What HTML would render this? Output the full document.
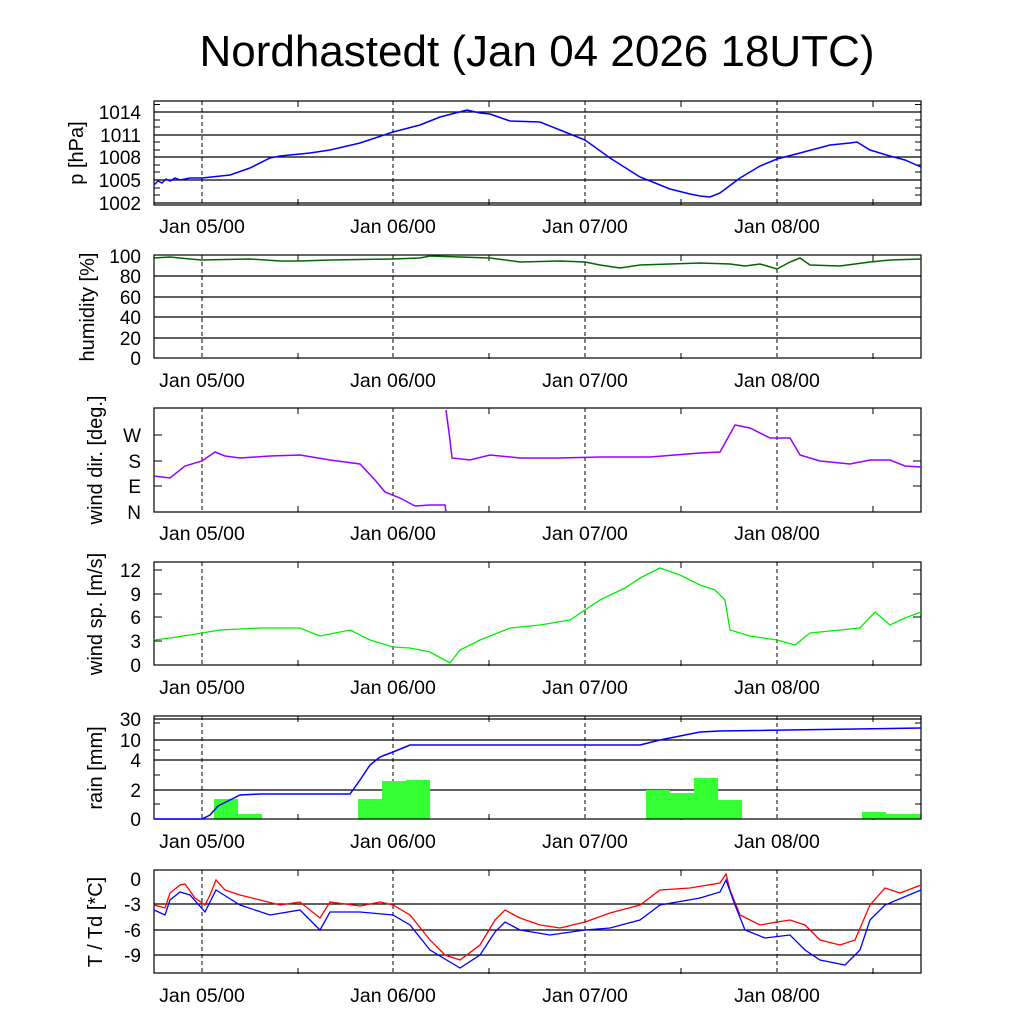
<!DOCTYPE html>
<html><head><style>body{margin:0;background:#fff}svg{display:block}text{font-family:"Liberation Sans",sans-serif;fill:#000}</style></head>
<body>
<svg width="1024" height="1024" xmlns="http://www.w3.org/2000/svg">
<rect width="1024" height="1024" fill="#fff"/>
<text x="537" y="66" font-size="44" text-anchor="middle">Nordhastedt (Jan 04 2026 18UTC)</text>
<defs>
<g id="vx" stroke="#000" stroke-width="1">
<line x1="202" y1="0" x2="202" y2="104" stroke-dasharray="4,3"/>
<line x1="393" y1="0" x2="393" y2="104" stroke-dasharray="4,3"/>
<line x1="585" y1="0" x2="585" y2="104" stroke-dasharray="4,3"/>
<line x1="777" y1="0" x2="777" y2="104" stroke-dasharray="4,3"/>
<path d="M298 104v-6M298 0v6M489 104v-6M489 0v6M681 104v-6M681 0v6M873 104v-6M873 0v6"/>
</g>
<g id="xl" font-size="19.5" text-anchor="middle">
<text x="202" y="132">Jan 05/00</text><text x="393" y="132">Jan 06/00</text><text x="585" y="132">Jan 07/00</text><text x="777" y="132">Jan 08/00</text>
</g>
</defs>

<g transform="translate(0,101)">
<use href="#vx"/><use href="#xl"/>
<g stroke="#000" stroke-width="1.2"><path d="M154 11H921M154 34H921M154 56H921M154 79H921M154 102H921"/></g>
<g stroke="#000"><path d="M154 3.5h6M154 19h6M154 26h6M154 41h6M154 49h6M154 64h6M154 71h6M154 87h6M154 94h6M921 3.5h-6M921 19h-6M921 26h-6M921 41h-6M921 49h-6M921 64h-6M921 71h-6M921 87h-6M921 94h-6"/></g>
<rect x="154" y="0" width="767" height="104" fill="none" stroke="#000" stroke-width="1.2"/>
<g font-size="19" text-anchor="end"><text x="141" y="18">1014</text><text x="141" y="41">1011</text><text x="141" y="63">1008</text><text x="141" y="86">1005</text><text x="141" y="109">1002</text></g>
<text transform="translate(83,52) rotate(-90)" font-size="20" text-anchor="middle">p [hPa]</text>
</g>
<polyline fill="none" stroke="#00f" stroke-width="1.5" points="154,185 158,181 162,183 166,179 170,181 175,178 180,180 190,178 202,178 230,175 250,168 270,158 280,156 290,155 310,153 330,150 360,143 393,132 420,125 440,117 467,110 480,113 490,114 510,121 540,122 560,130 585,140 610,158 640,177 670,189 690,194 700,196 710,197 720,193 740,178 760,166 777,159 800,153 830,145 850,143 857,142 870,150 890,156 905,160 921,167"/>

<g transform="translate(0,255)">
<use href="#vx"/><use href="#xl"/>
<g stroke="#000" stroke-width="1.2"><path d="M154 21H921M154 42H921M154 62H921M154 83H921"/></g>
<rect x="154" y="0" width="767" height="103" fill="none" stroke="#000" stroke-width="1.2"/>
<g font-size="19" text-anchor="end"><text x="141" y="8">100</text><text x="141" y="28">80</text><text x="141" y="49">60</text><text x="141" y="69">40</text><text x="141" y="90">20</text><text x="141" y="110">0</text></g>
<text transform="translate(94,52) rotate(-90)" font-size="20" text-anchor="middle">humidity [%]</text>
</g>
<polyline fill="none" stroke="#060" stroke-width="1.5" points="154,258 170,257 190,259 202,260 250,259 280,261 300,261 330,260 393,259 420,258 430,256 460,257 490,258 520,262 560,261 585,262 600,265 620,268 640,265 700,263 730,264 745,266 760,264 777,269 790,262 800,258 810,265 840,266 870,262 890,260 921,259"/>

<g transform="translate(0,408)">
<use href="#vx"/><use href="#xl"/>
<g stroke="#000"><path d="M154 27h8M154 53h8M154 78h8M921 27h-8M921 53h-8M921 78h-8"/></g>
<rect x="154" y="0" width="767" height="104" fill="none" stroke="#000" stroke-width="1.2"/>
<g font-size="19" text-anchor="end"><text x="141" y="34">W</text><text x="141" y="60">S</text><text x="141" y="85">E</text><text x="141" y="111">N</text></g>
<text transform="translate(102,52) rotate(-90)" font-size="20" text-anchor="middle">wind dir. [deg.]</text>
</g>
<polyline fill="none" stroke="#90f" stroke-width="1.5" points="154,476 170,478 185,466 202,461 215,452 225,456 240,458 270,456 300,455 330,460 360,464 375,480 385,492 400,498 415,506 430,505 445,505 446,512"/>
<polyline fill="none" stroke="#90f" stroke-width="1.5" points="446,410 450,440 452,458 470,460 490,455 520,458 560,458 600,457 650,457 700,453 720,452 735,425 750,428 770,438 790,438 800,455 820,461 850,464 870,460 890,460 905,466 921,467"/>

<g transform="translate(0,562)">
<use href="#vx"/><use href="#xl"/>
<g stroke="#000"><path d="M154 8h8M154 32h8M154 55h8M154 79h8M921 8h-8M921 32h-8M921 55h-8M921 79h-8"/></g>
<rect x="154" y="0" width="767" height="103" fill="none" stroke="#000" stroke-width="1.2"/>
<g font-size="19" text-anchor="end"><text x="141" y="15">12</text><text x="141" y="39">9</text><text x="141" y="62">6</text><text x="141" y="86">3</text><text x="141" y="110">0</text></g>
<text transform="translate(102,52) rotate(-90)" font-size="20" text-anchor="middle">wind sp. [m/s]</text>
</g>
<polyline fill="none" stroke="#0e0" stroke-width="1.3" points="154,640 170,638 202,633 220,630 260,628 300,628 320,636 350,630 370,640 393,647 410,648 430,652 450,663 460,650 480,640 510,628 540,625 570,620 600,600 625,588 640,578 660,568 680,575 700,585 715,590 725,600 730,630 750,636 777,640 795,645 810,633 840,630 860,628 875,612 890,625 905,618 921,612"/>

<g transform="translate(0,716)">
<use href="#vx"/><use href="#xl"/>
<g stroke="#000" stroke-width="1.2"><path d="M154 24H921M154 44H921M154 74H921M154 3H921"/></g>
<g stroke="#000"><path d="M154 88h6M154 59h6M154 34h6M154 7h6M921 88h-6M921 59h-6M921 34h-6M921 7h-6"/></g>
<g fill="#3f3">
<rect x="214" y="83" width="24" height="20"/><rect x="238" y="98" width="24" height="5"/>
<rect x="358" y="83" width="24" height="20"/><rect x="382" y="65" width="24" height="38"/><rect x="406" y="64" width="24" height="39"/>
<rect x="646" y="74" width="24" height="29"/><rect x="670" y="77" width="24" height="26"/><rect x="694" y="62" width="24" height="41"/><rect x="718" y="84" width="24" height="19"/>
<rect x="862" y="96" width="24" height="7"/><rect x="886" y="98" width="35" height="5"/>
</g>
<rect x="154" y="0" width="767" height="103" fill="none" stroke="#000" stroke-width="1.2"/>
<g font-size="19" text-anchor="end"><text x="141" y="10">30</text><text x="141" y="31">10</text><text x="141" y="51">4</text><text x="141" y="81">2</text><text x="141" y="110">0</text></g>
<text transform="translate(102,52) rotate(-90)" font-size="20" text-anchor="middle">rain [mm]</text>
</g>
<polyline fill="none" stroke="#00f" stroke-width="1.5" points="154,819 202,819 210,815 218,806 230,800 240,795 260,794 350,794 360,780 370,765 380,757 393,752 410,745 640,745 660,740 700,732 720,731 921,728"/>

<g transform="translate(0,870)">
<use href="#vx"/><use href="#xl"/>
<g stroke="#000" stroke-width="1.2"><path d="M154 34H921M154 60H921M154 85H921"/></g>
<rect x="154" y="0" width="767" height="103" fill="none" stroke="#000" stroke-width="1.2"/>
<g font-size="19" text-anchor="end"><text x="141" y="16">0</text><text x="141" y="41">-3</text><text x="141" y="67">-6</text><text x="141" y="92">-9</text></g>
<text transform="translate(102,52) rotate(-90)" font-size="20" text-anchor="middle">T / Td [*C]</text>
</g>
<polyline fill="none" stroke="#f00" stroke-width="1.3" points="154,905 165,908 170,893 180,885 185,884 195,898 205,905 210,895 216,880 225,890 240,895 260,900 280,905 300,902 320,918 330,902 360,906 380,902 393,905 410,915 430,940 445,955 460,960 480,945 495,920 505,910 520,918 540,925 560,928 585,922 610,913 640,905 660,890 690,888 720,883 726,874 730,890 740,915 760,925 777,922 790,920 805,925 820,940 840,945 855,940 870,905 885,888 900,893 921,885"/>
<polyline fill="none" stroke="#00f" stroke-width="1.3" points="154,910 165,915 170,900 180,892 190,895 205,912 216,890 240,905 270,915 300,910 320,930 330,912 360,912 393,915 410,925 430,950 460,968 480,955 495,932 505,922 520,930 550,935 585,930 610,928 640,920 660,905 700,898 720,892 726,880 735,905 745,930 765,938 790,935 805,950 820,960 845,965 860,950 870,920 885,905 921,890"/>
</svg>
</body></html>
